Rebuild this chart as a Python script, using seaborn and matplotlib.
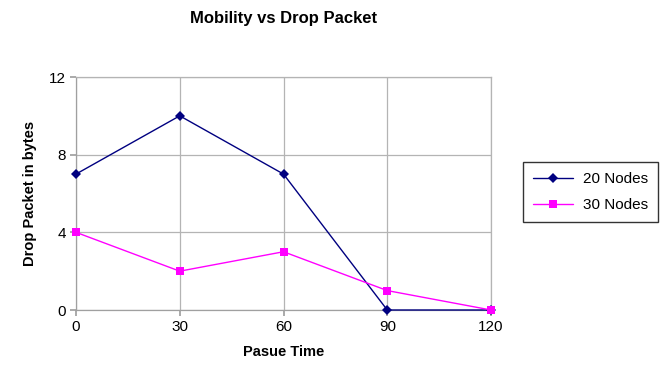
import matplotlib
matplotlib.use("Agg")
import matplotlib.pyplot as plt
import seaborn as sns
import pandas as pd

pause_time = [0, 30, 60, 90, 120]
nodes20 = [7, 10, 7, 0, 0]
nodes30 = [4, 2, 3, 1, 0]
series_names = ["20 Nodes", "30 Nodes"]
y_ticks = [0, 4, 8, 12]

df = pd.DataFrame({
    "Pause": pause_time * 2,
    "Drop": nodes20 + nodes30,
    "Series": [series_names[0]] * 5 + [series_names[1]] * 5,
})

sns.set_theme(style="white", rc={"text.color": "black", "axes.labelcolor": "black",
                                 "xtick.color": "black", "ytick.color": "black"})
plt.rcParams["font.family"] = ["Liberation Sans", "DejaVu Sans"]

fig = plt.figure(figsize=(6.65, 3.83), dpi=100)
ax = fig.add_axes([76/665, 1-310/383, (491-76)/665, (310-77)/383])

sns.lineplot(data=df, x="Pause", y="Drop", hue="Series", style="Series",
             palette={"20 Nodes": "#000080", "30 Nodes": "#FF00FF"},
             markers={"20 Nodes": "D", "30 Nodes": "s"},
             dashes=False, markersize=6, linewidth=1.0,
             markeredgewidth=0, ax=ax, legend=True)
for line in ax.get_lines():
    line.set_clip_on(False)
    line.set_zorder(5)
    if line.get_marker() == "D":
        line.set_markersize(5)

ax.set_xlim(0, 120)
ax.set_ylim(0, 12)
ax.set_xticks(pause_time)
ax.set_yticks(y_ticks)
ax.tick_params(axis="both", labelsize=11, length=4, color="#a0a0a0", direction="out", pad=3,
               bottom=True, left=True, labelcolor="black")
ax.grid(True, color="#b4b4b4", linewidth=0.9)
for s in ax.spines.values():
    s.set_color("#a0a0a0")
    s.set_linewidth(0.9)
ax.spines["top"].set_color("#b4b4b4")
ax.spines["right"].set_color("#b4b4b4")
ax.set_xlabel("Pasue Time", fontsize=10.5, fontweight="bold", labelpad=8, color="black")
ax.set_ylabel("Drop Packet in bytes", fontsize=10.5, fontweight="bold", labelpad=9, color="black")
fig.text(284/665, 1-18/383, "Mobility vs Drop Packet", ha="center", va="center",
         fontsize=12, fontweight="bold", color="black")

leg = ax.legend(loc="upper left", bbox_to_anchor=(523/665, 1-162/383), bbox_transform=fig.transFigure,
                frameon=True, fancybox=False, fontsize=11, handlelength=2.6,
                borderpad=0.65, labelspacing=0.8, handletextpad=0.7, borderaxespad=0)
leg.get_frame().set_edgecolor("black")
leg.get_frame().set_linewidth(1.0)
for t in leg.get_texts():
    t.set_color("black")

fig.savefig("out.png", dpi=100, facecolor="white")
